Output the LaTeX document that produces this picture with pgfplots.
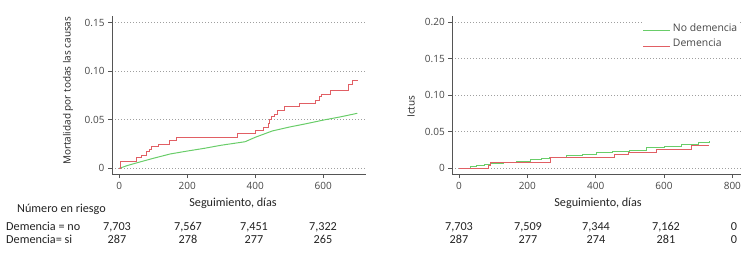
\documentclass[border=0pt]{standalone}
\usepackage{fontspec}
\setmainfont{Open Sans}
\newfontfamily\calibri{Carlito}
\usepackage{pgfplots}
\pgfplotsset{compat=1.18}
\definecolor{cgreen}{RGB}{105,205,105}
\definecolor{cred}{RGB}{225,95,100}
\definecolor{axgray}{RGB}{85,85,85}
\definecolor{txtgray}{RGB}{70,70,70}
\definecolor{tabtxt}{RGB}{35,35,35}
\begin{document}
\begin{tikzpicture}[x=1pt,y=1pt]
\useasboundingbox (0,0) rectangle (750,255);
\pgfplotsset{
 km/.style={
  scale only axis, height=158pt,
  axis x line*=bottom, axis y line*=left,
  xtick pos=left, ytick pos=left,
  tick align=outside, major tick length=4pt,
  axis line style={draw=axgray, line width=0.9pt},
  tick style={draw=axgray, line width=0.9pt},
  tick label style={font=\fontsize{10}{12}\selectfont, text=txtgray},
  xticklabel style={yshift=-1pt},
  ymajorgrids,
  major grid style={draw=gray!75, line width=0.8pt, dash pattern=on 0.8pt off 2.2pt},
  clip=false,
 }}
% ---------- left: mortality ----------
\begin{axis}[km, at={(112pt,81pt)}, anchor=south west, width=254pt,
  xmin=-21.5, xmax=725.6, ymin=-0.00587, ymax=0.157,
  xtick={0,200,400,600}, xticklabels={0,200,400,600},
  ytick={0,0.05,0.10,0.15}, yticklabels={0,0.05,0.10,0.15}]
\addplot[cgreen, line width=1pt] coordinates {
 (0,0) (25,0.003) (50,0.0055) (100,0.0103) (150,0.0148) (200,0.0178)
 (250,0.0206) (300,0.0238) (370,0.0274) (400,0.032) (450,0.0385)
 (500,0.0425) (550,0.046) (600,0.0497) (650,0.053) (700,0.0567)};
\addplot[const plot, cred, line width=1pt] coordinates {
 (0,0) (3,0.007) (51,0.0113) (66,0.0137) (80,0.017) (88,0.0195) (95,0.0223)
 (115,0.0247) (149,0.0285) (167,0.0322) (347,0.0354) (402,0.0385) (424,0.0425)
 (438,0.0464) (443,0.050) (448,0.053) (456,0.0556) (464,0.0595) (487,0.0635)
 (530,0.067) (576,0.0703) (590,0.0738) (595,0.0764) (620,0.0802) (675,0.0862)
 (686,0.091) (703,0.091)};
\end{axis}
% ---------- right: stroke ----------
\begin{axis}[km, at={(452.3pt,81pt)}, anchor=south west, width=288.4pt,
  xmin=-19.6, xmax=824.4, ymin=-0.0078, ymax=0.2086,
  xtick={0,200,400,600,800}, xticklabels={0,200,400,600,800},
  ytick={0,0.05,0.10,0.15,0.20}, yticklabels={0,0.05,0.10,0.15,0.20},
  legend style={at={(rel axis cs:0.657,0.975)}, anchor=north west, draw=none, fill=white,
    font=\fontsize{10.4}{12}\selectfont, text=txtgray, row sep=2pt, inner sep=1pt},
  legend cell align=left,
  legend image code/.code={\path (0pt,-3pt) -- (27pt,-3pt);\draw[#1,/tikz/sharp plot] (0pt,-3pt) -- (23pt,-3pt);}]
\addplot[const plot, cgreen, line width=1pt] coordinates {
 (0,0) (35,0.002) (50,0.004) (76,0.0055) (91,0.0072) (130,0.008) (169,0.0098)
 (208,0.0114) (240,0.013) (266,0.015) (315,0.0172) (360,0.019) (403,0.021)
 (450,0.023) (500,0.025) (550,0.028) (600,0.0305) (650,0.033) (700,0.035)
 (732,0.0374)};
\addlegendentry{No demencia}
\addplot[const plot, cred, line width=1pt] coordinates {
 (0,0) (85,0.004) (92,0.008) (268,0.015) (456,0.019) (496,0.022) (578,0.0264)
 (681,0.031) (732,0.031)};
\addlegendentry{Demencia}
\end{axis}
% ---------- labels ----------
\node[rotate=90, text=tabtxt, font=\fontsize{10}{12}\selectfont] at (68,164.2) {Mortalidad por todas las causas};
\node[rotate=90, text=tabtxt, font=\fontsize{10}{12}\selectfont] at (411,148.3) {Ictus};
\begin{scope}[every node/.style={inner sep=0pt, text=tabtxt, font=\calibri\fontsize{12.2}{14}\selectfont}]
\node[anchor=base] at (233,48.3) {Seguimiento, días};
\node[anchor=base] at (598,48.3) {Seguimiento, días};
\node[anchor=base west] at (17,42.7) {Número en riesgo};
\node[anchor=base west] at (6,25) {Demencia = no};
\node[anchor=base west] at (6,11.7) {Demencia= si};
\foreach \x/\a/\b in {117/7{,}703/287, 188/7{,}567/278, 254/7{,}451/277, 323/7{,}322/265,
   459/7{,}703/287, 528/7{,}509/277, 596/7{,}344/274, 666/7{,}162/281, 734/0/0} {
  \node[anchor=base] at (\x,25) {\a};
  \node[anchor=base] at (\x,11.7) {\b};
}
\end{scope}
\end{tikzpicture}
\end{document}
